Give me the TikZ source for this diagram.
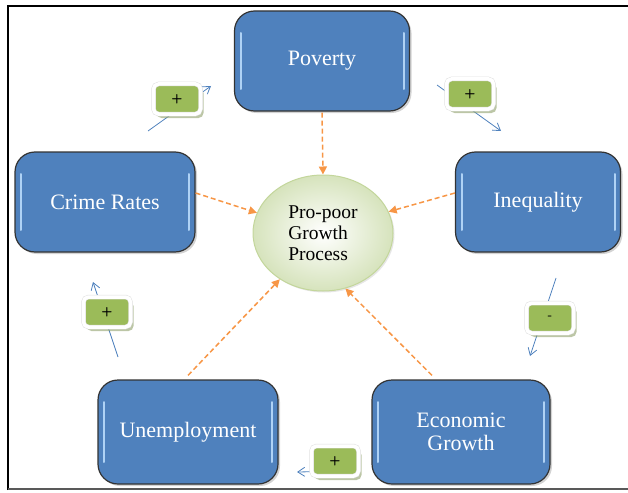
\documentclass[tikz,border=0pt]{standalone}
\usepackage{fontspec}
\setmainfont{Liberation Serif}
\usetikzlibrary{arrows.meta,shadows,shapes.geometric}
\definecolor{boxblue}{RGB}{79,129,189}
\definecolor{hlblue}{RGB}{175,210,245}
\definecolor{lgreen}{RGB}{155,187,89}
\definecolor{orng}{RGB}{247,150,70}
\definecolor{arrblue}{RGB}{79,129,189}
\definecolor{ellfill}{RGB}{214,227,188}
\definecolor{elledge}{RGB}{195,214,155}
\tikzset{
  bluebox/.style={draw=black!80, line width=1.2pt, fill=boxblue, rounded corners=20pt,
    text=white, font=\fontsize{22}{23}\selectfont, align=center,
    drop shadow={shadow xshift=2pt, shadow yshift=-2pt, opacity=0.35},
    path picture={
      \draw[hlblue, line width=2pt, line cap=round]
        ([xshift=6pt,yshift=-22pt]path picture bounding box.north west) --
        ([xshift=6pt,yshift=22pt]path picture bounding box.south west);
      \draw[hlblue, line width=2pt, line cap=round]
        ([xshift=-6pt,yshift=-22pt]path picture bounding box.north east) --
        ([xshift=-6pt,yshift=22pt]path picture bounding box.south east);
    }},
  core/.style={ellipse, draw=elledge, line width=1pt, inner color=white, outer color=ellfill,
    minimum width=140pt, minimum height=116pt, align=left, inner sep=0pt,
    font=\fontsize{19.5}{21}\selectfont,
    drop shadow={shadow xshift=1.5pt, shadow yshift=-1.5pt, opacity=0.2}},
  signbox/.style={fill=lgreen, draw=gray!25, double=white, double distance=3.5pt,
    line width=0.5pt, rounded corners=5pt, minimum width=47pt, minimum height=30pt,
    font=\sffamily\bfseries\fontsize{13}{13}\selectfont,
    drop shadow={shadow xshift=3pt, shadow yshift=-4pt, fill=lgreen!55!gray, opacity=0.6}},
  oarr/.style={orng, line width=1.5pt, dash pattern=on 5pt off 3pt, -{Triangle[length=8pt,width=8pt]}},
  barr/.style={arrblue, line width=0.8pt, -{Straight Barb[length=7pt,width=9pt]}}
}
\begin{document}
\begin{tikzpicture}[x=1pt,y=-1pt]
\useasboundingbox (0,0) rectangle (628,492);
% frame
\draw[black, line width=2pt] (8,490) -- (8,6) -- (628,6);
\draw[gray!70!black, line width=2pt] (8,489) -- (628,489);

% blue boxes
\node[bluebox, minimum width=175pt, minimum height=100pt] (pov) at (322,61) {Poverty};
\node[bluebox, minimum width=180pt, minimum height=100pt] (crime) at (105,202) {Crime Rates};
\node[bluebox, minimum width=165pt, minimum height=100pt] (ineq) at (538,202) {Inequality};
\node[bluebox, minimum width=180pt, minimum height=104pt] (unemp) at (188,432) {Unemployment};
\node[bluebox, minimum width=178pt, minimum height=104pt] (econ) at (461,432) {Economic\\Growth};

% central ellipse
\node[core] (cp) at (323,233) {Pro-poor\\Growth\\Process};

% orange dashed arrows
\draw[oarr] ([yshift=-1pt]pov.south) -- (cp.north);
\draw[oarr] ([yshift=9pt]crime.east) -- (cp.163);
\draw[oarr] ([yshift=9pt]ineq.west) -- (cp.18);
\draw[oarr] ([xshift=0pt,yshift=4pt]unemp.north) -- (cp.-133);
\draw[oarr] ([xshift=-29pt,yshift=4pt]econ.north) -- (cp.-68);

% blue cycle arrows
\coordinate (a1s) at (148,131); \coordinate (a1e) at (211,86);
\coordinate (a2s) at (437,85);  \coordinate (a2e) at (501,131);
\coordinate (a3s) at (556,278); \coordinate (a3e) at (530,356);
\coordinate (a4s) at (118,357); \coordinate (a4e) at (93,282);
\coordinate (a5s) at (350,471); \coordinate (a5e) at (297,472);
\draw[barr] (a1s) -- (a1e);
\draw[barr] (a2s) -- (a2e);
\draw[barr] (a3s) -- (a3e);
\draw[barr] (a4s) -- (a4e);
\draw[barr] (a5s) -- (a5e);

% sign labels
\node[signbox] (s1) at (177,99) {+};
\node[signbox] (s2) at (470,94) {+};
\node[signbox] (s3) at (550,318) {-};
\node[signbox] (s4) at (107,312) {+};
\node[signbox] (s5) at (335,461) {+};
\end{tikzpicture}
\end{document}
